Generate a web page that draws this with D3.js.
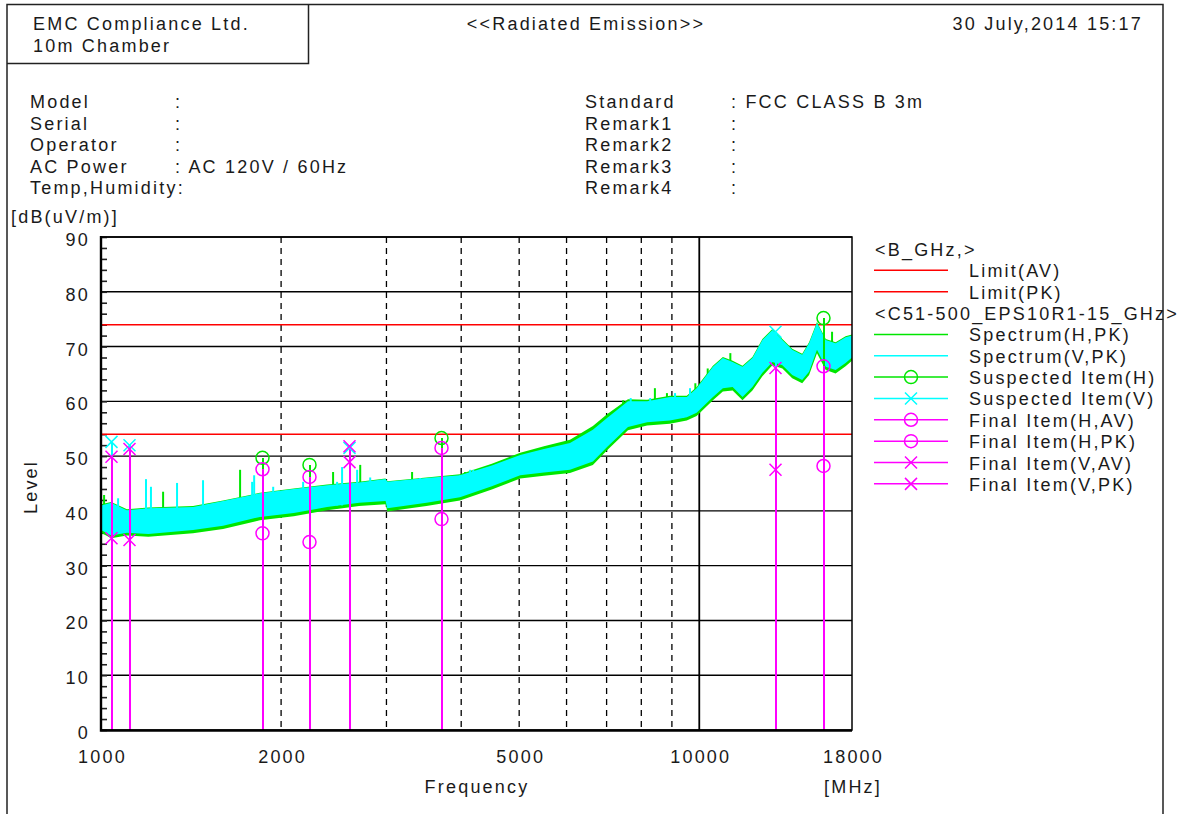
<!DOCTYPE html>
<html>
<head>
<meta charset="utf-8">
<script src="https://cdn.jsdelivr.net/npm/d3@7"></script>
<style>
  body { margin: 0; background: #fff; }
  svg text { font-family: "Liberation Sans", Arial, sans-serif; font-size: 18px; letter-spacing: 2.2px; fill: #1a1a1a; }
</style>
</head>
<body>
<script>
"use strict";

/* chart data */
var yTicks = [0, 10, 20, 30, 40, 50, 60, 70, 80, 90];
var xTicks = [1000, 2000, 5000, 10000, 18000];
var xGridDashed = [2000, 3000, 4000, 5000, 6000, 7000, 8000, 9000];
var xGridSolid = [10000];
var limitAV = 54;
var limitPK = 74;

// spectrum envelope
var specFreq = [1000, 1040, 1105, 1200, 1425, 1600, 1844, 2100, 2387, 2700,
  2990, 3010, 3500, 3980, 4500, 5020, 5500, 6080, 6640, 7020,
  7600, 8180, 8930, 9530, 9900, 10540, 10950, 11370, 11810, 12270,
  12750, 13250, 13770, 14300, 14860, 15260, 15730, 16270, 16900, 17560, 18000];
var vLow = [36.5, 35.5, 36, 35.8, 36.5, 37.3, 38.9, 39.6, 40.7, 41.5,
  41.8, 40.5, 41.5, 42.5, 44.5, 46.5, 47, 47.5, 49, 51.7,
  55.3, 56.2, 56.5, 57.1, 57.9, 60.8, 62.4, 62.6, 60.8, 62.6,
  65.2, 67.2, 66.6, 64.8, 63.9, 65.4, 69.4, 66.3, 65.7, 67, 68];
var vHigh = [41, 41.5, 40.1, 40.5, 40.7, 41.8, 43.2, 44, 44.7, 45.2,
  45.8, 45.3, 46, 46.5, 48.3, 50.2, 51.3, 52.4, 54.8, 57,
  60, 60, 60.8, 60.8, 62.4, 66.3, 67.9, 67.2, 66.3, 67.9,
  71.2, 73, 71.2, 69.4, 68.5, 70.6, 74.3, 71.2, 70.6, 71.7, 72];
var hLow = [36, 35, 35.5, 35.3, 35.9, 36.7, 38.3, 39, 40.1, 40.9,
  41.2, 39.9, 40.9, 41.9, 43.9, 45.9, 46.4, 46.9, 48.4, 51.1,
  54.7, 55.6, 55.9, 56.5, 57.3, 60.2, 61.8, 62, 60.2, 62,
  64.6, 66.6, 66, 64.2, 63.3, 64.8, 68.8, 65.7, 65.1, 66.4, 67.4];
var hHigh = [41.2, 41.6, 40.3, 40.6, 40.9, 41.9, 43.3, 44.1, 44.8, 45.3,
  45.9, 45.4, 46.1, 46.7, 48.6, 50.6, 51.8, 53, 55.5, 57.7,
  60.4, 60.3, 61, 61, 62.6, 66.5, 68.1, 67.4, 66.5, 68.1,
  71.4, 73.2, 71.4, 69.6, 68.7, 70.8, 74.5, 71.4, 70.8, 71.9, 72.2];

// narrow spikes sticking out of the band: [freq, base, top]
var greenSpikes = [[1012, 38, 42.9], [1270, 38, 43.5], [1708, 40, 47.5], [2443, 42, 47.1],
  [2712, 42.5, 48.4], [3311, 43, 47.1], [4060, 44, 47.1], [4590, 46, 48], [5177, 47, 50.4],
  [6010, 48, 51.5], [6670, 50, 55.3], [6870, 51, 56], [7460, 55, 60.2], [7960, 57, 60.2],
  [8430, 57, 62.4], [8830, 58, 61.5], [9850, 58, 63.3], [10330, 60, 66], [11270, 63, 68.8],
  [15750, 70, 73.9], [16670, 67, 72.7]];
var cyanSpikes = [[1068, 37, 42.3], [1189, 37, 45.8], [1212, 37, 44.4], [1340, 38, 45.1],
  [1481, 38, 45.6], [1789, 39, 45.3], [1803, 39, 46.5], [1940, 40, 44.4], [2177, 40, 45.3],
  [2481, 41, 45.3], [2529, 41, 48.0], [2680, 41.5, 47.5], [2818, 42, 46.1], [3415, 43, 46.0],
  [3834, 43, 45.3], [3985, 43.5, 46.5], [4140, 44, 47.5], [4190, 44, 47.5], [5210, 47, 50.2],
  [5560, 48, 50.8], [6250, 49, 51.7], [7100, 53, 56.6], [7680, 56, 60.6], [8280, 57, 60.6],
  [9110, 57, 61.5], [9400, 57, 60.8], [9650, 58, 62.4]];

// measured items [freq, level]
var suspH = [[1859, 49.7], [2228, 48.4], [3703, 53.3], [16120, 75.2]];
var suspV = [[1039, 52.6], [1114, 52.0], [2598, 51.5], [13400, 72.7]];
var finalHAV = [[1859, 35.9], [2228, 34.3], [3703, 38.5], [16120, 48.2]];
var finalHPK = [[1859, 47.6], [2228, 46.2], [3703, 51.5], [16120, 66.4]];
var finalVAV = [[1039, 35.0], [1114, 34.7], [2598, 48.9], [13400, 47.5]];
var finalVPK = [[1039, 49.9], [1114, 51.3], [2598, 51.8], [13400, 66.1]];

var infoLeft = [["Model", ":"], ["Serial", ":"], ["Operator", ":"], ["AC Power", ": AC 120V / 60Hz"], ["Temp,Humidity:", ""]];
var infoRight = [["Standard", ": FCC CLASS B 3m"], ["Remark1", ":"], ["Remark2", ":"], ["Remark3", ":"], ["Remark4", ":"]];

var legendItems = [
  {label: "<B_GHz,>"},
  {label: "Limit(AV)", color: "#ff0000"},
  {label: "Limit(PK)", color: "#ff0000"},
  {label: "<C51-500_EPS10R1-15_GHz>"},
  {label: "Spectrum(H,PK)", color: "#00e600"},
  {label: "Spectrum(V,PK)", color: "#00ffff"},
  {label: "Suspected Item(H)", color: "#00e600", mark: "o"},
  {label: "Suspected Item(V)", color: "#00ffff", mark: "x"},
  {label: "Final Item(H,AV)", color: "#ff00ff", mark: "o"},
  {label: "Final Item(H,PK)", color: "#ff00ff", mark: "o"},
  {label: "Final Item(V,AV)", color: "#ff00ff", mark: "x"},
  {label: "Final Item(V,PK)", color: "#ff00ff", mark: "x"}
];

var GREEN = "#00e600", CYAN = "#00ffff", MAG = "#ff00ff", RED = "#ff0000";

var svg = d3.select("body").append("svg")
  .attr("width", 1186).attr("height", 814);
svg.append("rect").attr("width", 1186).attr("height", 814).attr("fill", "#fff");

// page frame and header box
svg.append("path").attr("d", "M7,814V4.5H1163V814").attr("fill", "none").attr("stroke", "#222").attr("stroke-width", 1.5);
svg.append("path").attr("d", "M7,63.5H308.5V4.5").attr("fill", "none").attr("stroke", "#222").attr("stroke-width", 1.5);

svg.append("text").attr("x", 33).attr("y", 30).text("EMC Compliance Ltd.");
svg.append("text").attr("x", 33).attr("y", 52).text("10m Chamber");
svg.append("text").attr("x", 586).attr("y", 30).attr("text-anchor", "middle").text("<<Radiated Emission>>");
svg.append("text").attr("x", 1143).attr("y", 30).attr("text-anchor", "end").text("30 July,2014 15:17");

infoLeft.forEach(function(d, i) {
  svg.append("text").attr("x", 30).attr("y", 108 + i * 21.5).text(d[0]);
  if (d[1]) svg.append("text").attr("x", 175).attr("y", 108 + i * 21.5).text(d[1]);
});
infoRight.forEach(function(d, i) {
  svg.append("text").attr("x", 585).attr("y", 108 + i * 21.5).text(d[0]);
  svg.append("text").attr("x", 731).attr("y", 108 + i * 21.5).text(d[1]);
});
svg.append("text").attr("x", 11).attr("y", 223).text("[dB(uV/m)]");

// scales
var x = d3.scaleLog().domain([1000, 18000]).range([101, 852]);
var y = d3.scaleLinear().domain([0, 90]).range([730, 237]);

// grid
var grid = svg.append("g");
grid.selectAll(".hg").data(yTicks.slice(1)).enter().append("line")
  .attr("x1", 101).attr("x2", 852)
  .attr("y1", function(d) { return y(d); }).attr("y2", function(d) { return y(d); })
  .attr("stroke", "#000").attr("stroke-width", 1.4);
grid.selectAll(".vd").data(xGridDashed).enter().append("line")
  .attr("x1", function(d) { return x(d); }).attr("x2", function(d) { return x(d); })
  .attr("y1", 237).attr("y2", 730)
  .attr("stroke", "#000").attr("stroke-width", 1.3).attr("stroke-dasharray", "6,5");
grid.selectAll(".vs").data(xGridSolid).enter().append("line")
  .attr("x1", function(d) { return x(d); }).attr("x2", function(d) { return x(d); })
  .attr("y1", 237).attr("y2", 730)
  .attr("stroke", "#000").attr("stroke-width", 1.8);

// minor ticks on the y axis
svg.append("g").attr("transform", "translate(101,0)")
  .call(d3.axisRight(y).tickValues(d3.range(0, 91, 2)).tickSize(6).tickFormat(""))
  .call(function(g) { g.select(".domain").remove(); })
  .selectAll("line").attr("stroke", "#222").attr("stroke-width", 1.6);

// limits
[limitAV, limitPK].forEach(function(v) {
  svg.append("line").attr("x1", 101).attr("x2", 852).attr("y1", y(v)).attr("y2", y(v))
    .attr("stroke", RED).attr("stroke-width", 1.5);
});

// spectrum
svg.append("clipPath").attr("id", "plotclip").append("rect")
  .attr("x", 101).attr("y", 237).attr("width", 751).attr("height", 493);
var spec = svg.append("g").attr("clip-path", "url(#plotclip)");

var hData = specFreq.map(function(f, i) { return {f: f, lo: hLow[i], hi: hHigh[i]}; });
var vData = specFreq.map(function(f, i) { return {f: f, lo: vLow[i], hi: vHigh[i]}; });
var band = d3.area()
  .x(function(d) { return x(d.f); })
  .y0(function(d) { return y(d.lo); })
  .y1(function(d) { return y(d.hi); });

spec.selectAll(".gs").data(greenSpikes).enter().append("line")
  .attr("x1", function(d) { return x(d[0]); }).attr("x2", function(d) { return x(d[0]); })
  .attr("y1", function(d) { return y(d[1]); }).attr("y2", function(d) { return y(d[2]); })
  .attr("stroke", GREEN).attr("stroke-width", 2);
spec.append("path").attr("d", band(hData)).attr("fill", GREEN);
spec.selectAll(".cs").data(cyanSpikes).enter().append("line")
  .attr("x1", function(d) { return x(d[0]); }).attr("x2", function(d) { return x(d[0]); })
  .attr("y1", function(d) { return y(d[1]); }).attr("y2", function(d) { return y(d[2]); })
  .attr("stroke", CYAN).attr("stroke-width", 2);
spec.append("path").attr("d", band(vData)).attr("fill", CYAN);

// item stems: suspected first, finals on top
function stems(data, color) {
  svg.append("g").selectAll("line").data(data).enter().append("line")
    .attr("x1", function(d) { return Math.round(x(d[0])) + 0.5; })
    .attr("x2", function(d) { return Math.round(x(d[0])) + 0.5; })
    .attr("y1", y(0)).attr("y2", function(d) { return y(d[1]); })
    .attr("stroke", color).attr("stroke-width", 2).attr("shape-rendering", "crispEdges");
}
stems(suspH, GREEN);
stems(suspV, CYAN);
stems(finalHPK, MAG);
stems(finalVPK, MAG);

function drawMark(g, cx, cy, kind, color) {
  if (kind === "o") {
    g.append("circle").attr("cx", cx).attr("cy", cy).attr("r", 6.5)
      .attr("fill", "none").attr("stroke", color).attr("stroke-width", 1.5);
  } else {
    g.append("path").attr("d", "M" + (cx - 6) + "," + (cy - 6) + "L" + (cx + 6) + "," + (cy + 6) +
      "M" + (cx - 6) + "," + (cy + 6) + "L" + (cx + 6) + "," + (cy - 6))
      .attr("fill", "none").attr("stroke", color).attr("stroke-width", 1.5);
  }
}
function marks(data, kind, color) {
  var g = svg.append("g");
  data.forEach(function(d) { drawMark(g, Math.round(x(d[0])) + 0.5, y(d[1]), kind, color); });
}
marks(suspH, "o", GREEN);
marks(suspV, "x", CYAN);
marks(finalHAV, "o", MAG);
marks(finalHPK, "o", MAG);
marks(finalVAV, "x", MAG);
marks(finalVPK, "x", MAG);

// axes frame
svg.append("rect").attr("x", 101).attr("y", 237).attr("width", 751).attr("height", 493)
  .attr("fill", "none").attr("stroke", "#000").attr("stroke-width", 1.5);
svg.append("path").attr("d", "M101,236V730.5H852").attr("fill", "none").attr("stroke", "#000").attr("stroke-width", 2.4);

// tick labels
svg.append("g").selectAll("text").data(yTicks).enter().append("text")
  .attr("x", 90).attr("y", function(d) { return y(d) + 9; })
  .attr("text-anchor", "end").text(function(d) { return d; });
svg.append("g").selectAll("text").data(xTicks).enter().append("text")
  .attr("x", function(d) { return x(d) + 1.5; }).attr("y", 763)
  .attr("text-anchor", "middle").text(function(d) { return d; });

svg.append("text").attr("x", 477).attr("y", 793).attr("text-anchor", "middle").text("Frequency");
svg.append("text").attr("x", 853).attr("y", 793).attr("text-anchor", "middle").text("[MHz]");
svg.append("text").attr("transform", "translate(37,487) rotate(-90)")
  .attr("text-anchor", "middle").text("Level");

// legend
var lg = svg.append("g");
legendItems.forEach(function(d, i) {
  var cy = 249 + i * 21.35;
  if (!d.color) {
    lg.append("text").attr("x", 875).attr("y", cy + 7).text(d.label);
    return;
  }
  lg.append("line").attr("x1", 874).attr("x2", 948).attr("y1", cy).attr("y2", cy)
    .attr("stroke", d.color).attr("stroke-width", 1.5);
  if (d.mark) drawMark(lg, 911, cy, d.mark, d.color);
  lg.append("text").attr("x", 969).attr("y", cy + 7).text(d.label);
});
</script>
</body>
</html>
